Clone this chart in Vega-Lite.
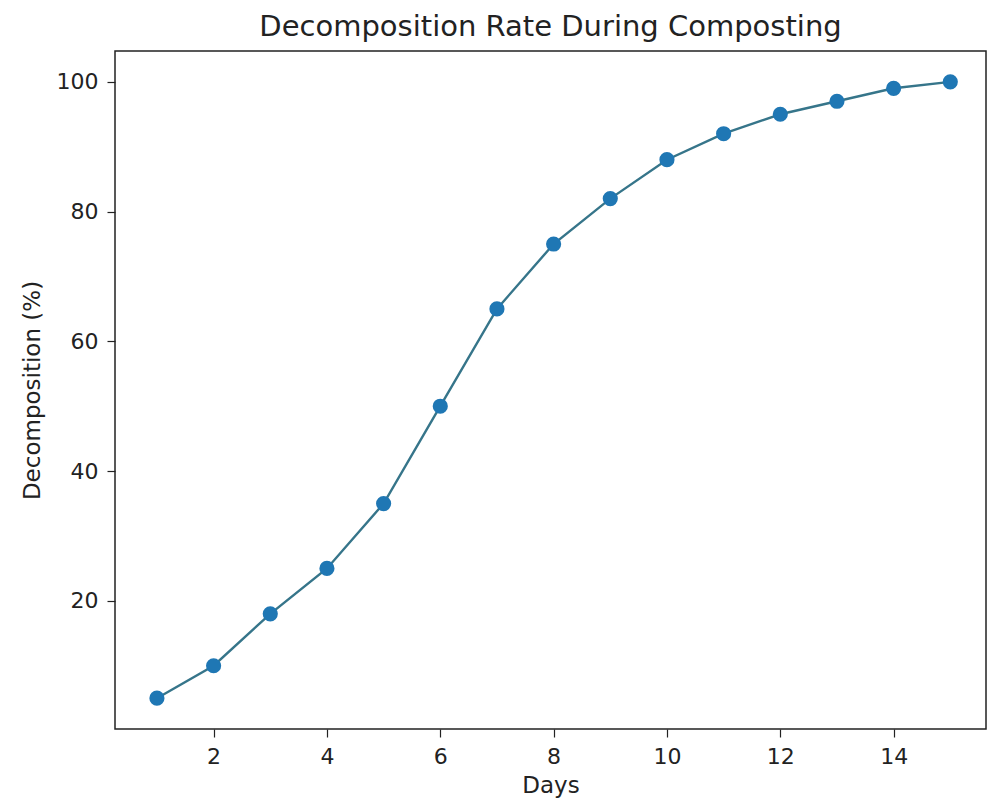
{
  "$schema": "https://vega.github.io/schema/vega-lite/v6.json",
  "width": 871,
  "height": 678,
  "autosize": "none",
  "padding": {"left": 115, "top": 51, "right": 1, "bottom": 81},
  "background": "white",
  "title": {
    "text": "Decomposition Rate During Composting",
    "font": "DejaVu Sans",
    "fontSize": 29,
    "fontWeight": "normal",
    "color": "#222222",
    "offset": 9
  },
  "data": {
    "values": [
      {"day": 1, "pct": 5},
      {"day": 2, "pct": 10},
      {"day": 3, "pct": 18},
      {"day": 4, "pct": 25},
      {"day": 5, "pct": 35},
      {"day": 6, "pct": 50},
      {"day": 7, "pct": 65},
      {"day": 8, "pct": 75},
      {"day": 9, "pct": 82},
      {"day": 10, "pct": 88},
      {"day": 11, "pct": 92},
      {"day": 12, "pct": 95},
      {"day": 13, "pct": 97},
      {"day": 14, "pct": 99},
      {"day": 15, "pct": 100}
    ]
  },
  "config": {
    "view": {"stroke": "#222222", "strokeWidth": 1.5},
    "axis": {
      "grid": false,
      "domain": false,
      "tickColor": "#222222",
      "tickSize": 8,
      "tickWidth": 1.2,
      "labelFont": "DejaVu Sans",
      "labelFontSize": 22,
      "labelColor": "#222222",
      "titleFont": "DejaVu Sans",
      "titleFontSize": 23,
      "titleFontWeight": "normal",
      "titleColor": "#222222",
      "labelPadding": 9
    }
  },
  "encoding": {
    "x": {
      "field": "day",
      "type": "quantitative",
      "title": "Days",
      "scale": {"domain": [0.26, 15.63], "nice": false, "zero": false},
      "axis": {"values": [2, 4, 6, 8, 10, 12, 14], "titlePadding": 7}
    },
    "y": {
      "field": "pct",
      "type": "quantitative",
      "title": "Decomposition (%)",
      "scale": {"domain": [0.25, 104.75], "nice": false, "zero": false},
      "axis": {"values": [20, 40, 60, 80, 100], "titlePadding": 12}
    }
  },
  "layer": [
    {"mark": {"type": "line", "color": "#36758a", "strokeWidth": 2.4}},
    {"mark": {"type": "point", "filled": true, "color": "#1f77b4", "size": 230, "opacity": 1}}
  ]
}
